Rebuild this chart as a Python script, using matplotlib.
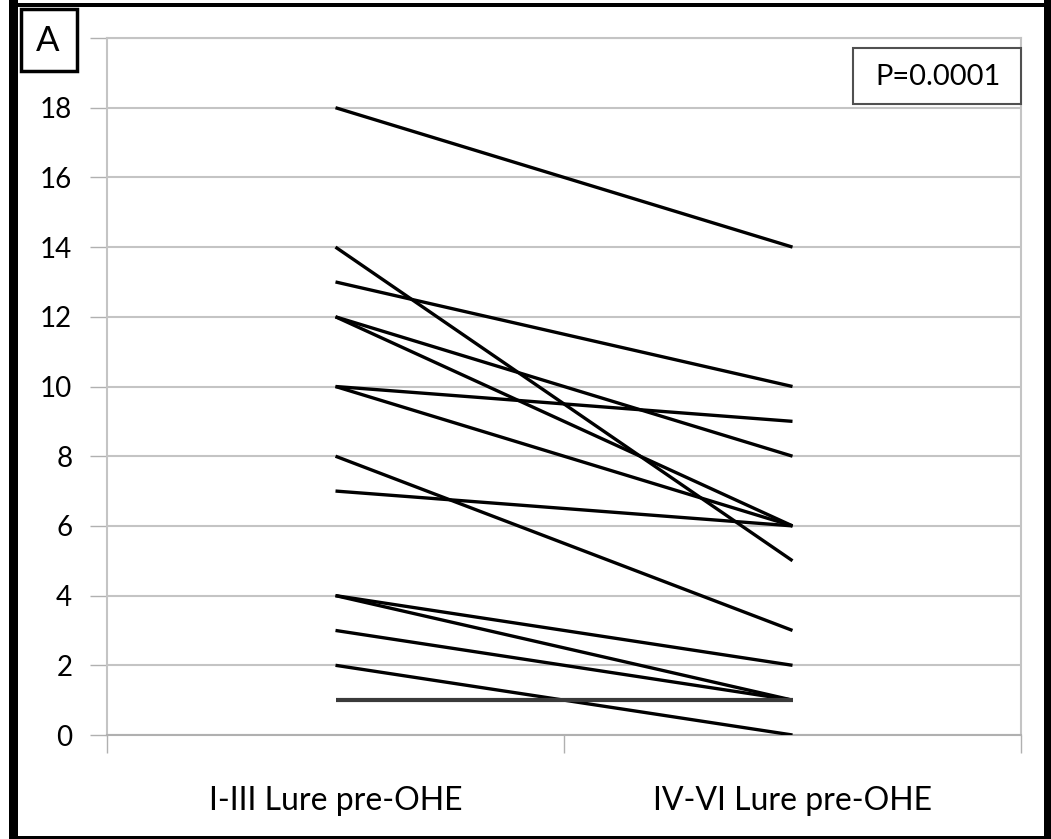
import numpy as np
import matplotlib.pyplot as plt
from matplotlib.patches import Rectangle

# paired values: before (I-III) and after (IV-VI)
categories = ['I-III Lure pre-OHE', 'IV-VI Lure pre-OHE']
before = [18, 14, 13, 12, 12, 10, 10, 8, 7, 4, 4, 3, 2]
after = [14, 5, 10, 8, 6, 9, 6, 3, 6, 2, 1, 1, 0]
flat_before = [1]
flat_after = [1]
yticks = [0, 2, 4, 6, 8, 10, 12, 14, 16, 18, 20]
p_text = 'P=0.0001'

plt.rcParams['font.family'] = ['Lato', 'DejaVu Sans']

W, H = 1051, 839
fig = plt.figure(figsize=(W / 100, H / 100), dpi=100)
ax = fig.add_axes([107/W, 1-735/H, (1021-107)/W, (735-38)/H])

x = [0, 1]
for b, a in zip(before, after):
    ax.plot(x, [b, a], color='black', lw=2.4, solid_capstyle='butt', zorder=3)
for b, a in zip(flat_before, flat_after):
    ax.plot(x, [b, a], color='#3a3a3a', lw=3.0, solid_capstyle='butt', zorder=3)

ax.set_xlim(-0.5, 1.5)
ax.set_ylim(0, 20)
ax.set_yticks(yticks)
# the "20" label sits under the panel label box
ax.set_yticklabels([str(v) if v < 20 else '' for v in yticks])
ax.set_xticks(x)
ax.set_xticklabels(categories)
ax.tick_params(axis='x', length=0, pad=37, labelsize=23)
ax.tick_params(axis='y', length=12, width=1, color='#b0b0b0', pad=13, labelsize=20)
ax.yaxis.grid(True, color='#c4c4c4', lw=1.5)
ax.set_axisbelow(True)
for side in ['left', 'bottom', 'right', 'top']:
    ax.spines[side].set_color('#c4c4c4')
    ax.spines[side].set_linewidth(1.5)
ax.spines['bottom'].set_color('#b0b0b0')
# ticks between categories on the x axis
ax.set_xticks([-0.5, 0.5, 1.5], minor=True)
ax.tick_params(axis='x', which='minor', length=13, width=1, color='#b0b0b0')

# P-value box
fig.patches.append(Rectangle((853/W, 1-104/H), (1021-853)/W, 56/H, transform=fig.transFigure,
                             fc='white', ec='#505050', lw=1.5, zorder=5))
fig.text(938/W, 1-77/H, p_text, ha='center', va='center', fontsize=21, zorder=6)

# panel label box covering the top-left corner
fig.patches.append(Rectangle((21/W, 1-71/H), 56/W, 62/H, transform=fig.transFigure,
                             fc='white', ec='black', lw=2.5, zorder=10))
fig.text(48/W, 1-41/H, 'A', ha='center', va='center', fontsize=25, zorder=11)

# outer frame
frame = [(9, 0, 9, H), (9, 3, W - 9, 4), (1044, 0, 7, H), (9, 836, W - 9, 3)]
for fx, fy, fw, fh in frame:
    fig.patches.append(Rectangle((fx/W, 1-(fy+fh)/H), fw/W, fh/H, transform=fig.transFigure,
                                 fc='black', ec='none', zorder=12))

fig.savefig('out.png', dpi=100)
